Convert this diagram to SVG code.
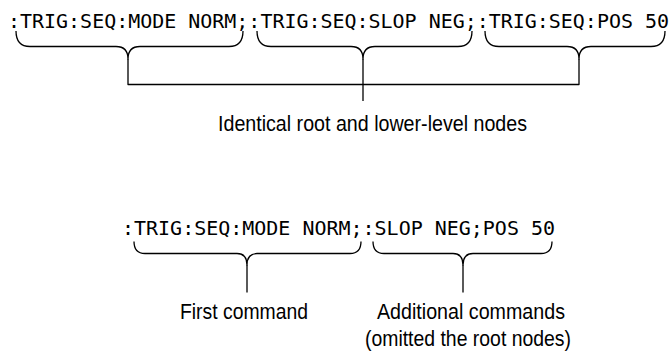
<svg xmlns="http://www.w3.org/2000/svg" width="671" height="351" viewBox="0 0 671 351">
<style>
.mono{font-family:"DejaVu Sans Mono","Liberation Mono",monospace;font-size:20px;fill:#000}
.lbl{font-family:"Liberation Sans",Arial,sans-serif;font-size:22px;fill:#000}
.br{fill:none;stroke:#000;stroke-width:1.3;stroke-linejoin:round}
</style>
<rect width="671" height="351" fill="#fff"/>
<g id="cmd-full">
<text class="mono" x="8" y="28" textLength="661" lengthAdjust="spacingAndGlyphs">:TRIG:SEQ:MODE NORM;:TRIG:SEQ:SLOP NEG;:TRIG:SEQ:POS 50</text>
</g>
<g id="label-identical">
<text class="lbl" x="218" y="131" textLength="309" lengthAdjust="spacingAndGlyphs">Identical root and lower-level nodes</text>
</g>
<g id="cmd-short">
<text class="mono" x="122" y="235" textLength="433" lengthAdjust="spacingAndGlyphs">:TRIG:SEQ:MODE NORM;:SLOP NEG;POS 50</text>
</g>
<g id="label-first">
<text class="lbl" x="180" y="319" textLength="128" lengthAdjust="spacingAndGlyphs">First command</text>
</g>
<g id="label-additional">
<text class="lbl" x="377" y="319" textLength="188" lengthAdjust="spacingAndGlyphs">Additional commands</text>
<text class="lbl" x="365" y="346" textLength="206" lengthAdjust="spacingAndGlyphs">(omitted the root nodes)</text>
</g>
<g id="connectors">
<path class="br" d="M16,31 Q16,46.5 30,46.5 H116 Q128,46.5 128,59 Q128,46.5 140,46.5 H229 Q243,46.5 243,31"/>
<path class="br" d="M257,31 Q257,46.5 271,46.5 H351 Q363,46.5 363,59 Q363,46.5 375,46.5 H458 Q472,46.5 472,31"/>
<path class="br" d="M485,31 Q485,46.5 499,46.5 H567 Q579,46.5 579,59 Q579,46.5 591,46.5 H651 Q665,46.5 665,31"/>
<path class="br" d="M128,59 V84.5 H579 V59"/>
<path class="br" d="M363,59 V101"/>
<path class="br" d="M134,241.5 Q134,253.5 145,253.5 H237 Q247,253.5 247,265 Q247,253.5 257,253.5 H350 Q361,253.5 361,241.5"/>
<path class="br" d="M373,241.5 Q373,253.5 384,253.5 H453 Q463,253.5 463,265 Q463,253.5 473,253.5 H541 Q552,253.5 552,241.5"/>
<path class="br" d="M247,265 V292.5"/>
<path class="br" d="M463,265 V292.5"/>
</g>
</svg>
